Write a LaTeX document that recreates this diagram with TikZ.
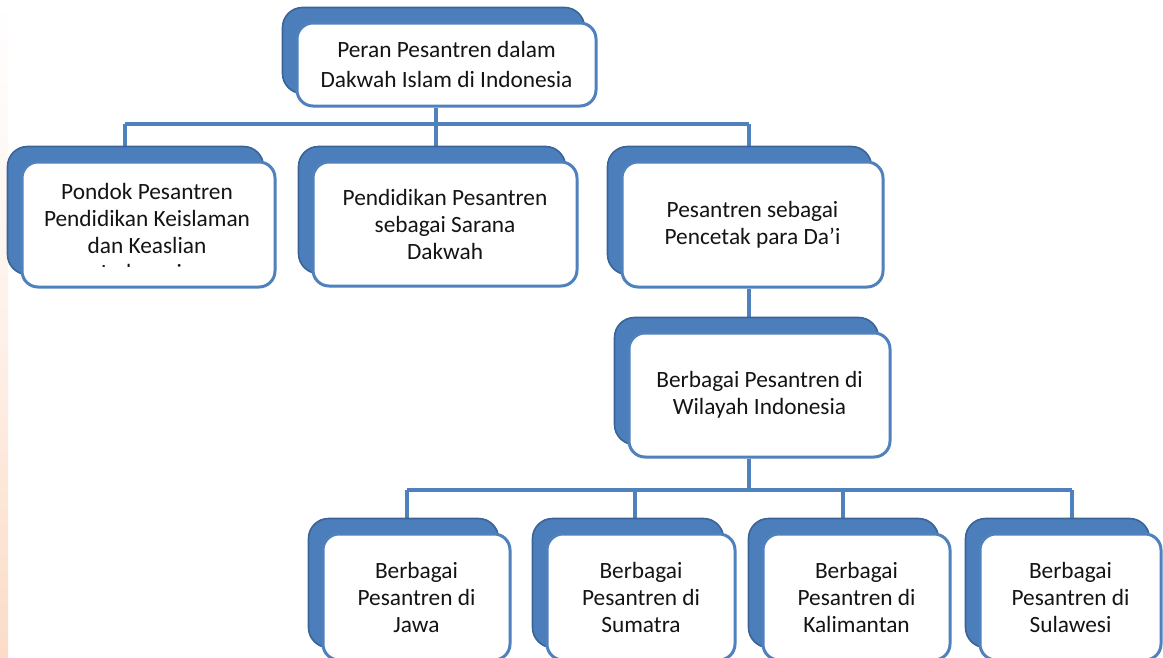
\documentclass[tikz,border=0pt]{standalone}
\usepackage{fontspec}
\setmainfont{Carlito}
\usetikzlibrary{backgrounds,calc}
\definecolor{bluebd}{RGB}{79,129,189}
\definecolor{shfill}{RGB}{76,126,188}
\definecolor{shedge}{RGB}{58,100,152}
\definecolor{txtc}{RGB}{20,20,20}
\definecolor{peach}{RGB}{251,220,200}
\newcommand{\pxl}{0.75pt}
\tikzset{
  frontbox/.style={draw=bluebd, line width=2.25pt, fill=white, rounded corners=12pt,
    align=center, inner sep=0pt, text=txtc, font=\fontsize{17.5pt}{20.25pt}\selectfont},
  toptext/.style={font=\fontsize{17.5pt}{22.5pt}\selectfont},
  boxtext/.style={align=center, inner sep=0pt, text=txtc, font=\fontsize{17.5pt}{20.25pt}\selectfont},
  conn/.style={draw=bluebd, line width=3pt},
  backbox/.style={fill=shfill, draw=shedge, line width=1.2pt, rounded corners=15pt},
}
\newcommand{\backof}[1]{\path[backbox] ($(#1.south west)+(-13,-14)$) rectangle ($(#1.north east)+(-13,-14)$);}
\begin{document}
\begin{tikzpicture}[x=0.75pt, y=-0.75pt]
\useasboundingbox (0,0) rectangle (1163,657);

% front boxes
\node[frontbox, toptext, minimum width=299*\pxl, minimum height=83*\pxl] (top) at (446.5,64.5)
  {Peran Pesantren dalam\\Dakwah Islam di Indonesia};
\node[frontbox, minimum width=253*\pxl, minimum height=125*\pxl] (b1) at (148.5,224.5) {};
\node[frontbox, minimum width=264*\pxl, minimum height=124*\pxl] (b2) at (445,224)
  {Pendidikan Pesantren\\sebagai Sarana\\Dakwah};
\node[frontbox, minimum width=261*\pxl, minimum height=125*\pxl] (b3) at (752.5,224.5)
  {Pesantren sebagai\\Pencetak para Da’i};
\node[frontbox, minimum width=261*\pxl, minimum height=124*\pxl] (b4) at (759.5,395)
  {Berbagai Pesantren di\\Wilayah Indonesia};
\node[frontbox, minimum width=187*\pxl, minimum height=126*\pxl] (jw) at (416.5,597)
  {Berbagai\\Pesantren di\\Jawa};
\node[frontbox, minimum width=188*\pxl, minimum height=126*\pxl] (sm) at (641,597)
  {Berbagai\\Pesantren di\\Sumatra};
\node[frontbox, minimum width=187*\pxl, minimum height=126*\pxl] (kl) at (856.5,597)
  {Berbagai\\Pesantren di\\Kalimantan};
\node[frontbox, minimum width=181*\pxl, minimum height=126*\pxl] (sl) at (1070.5,597)
  {Berbagai\\Pesantren di\\Sulawesi};

% clipped text of the first box
\begin{scope}
  \clip (0,150) rectangle (300,266);
  \node[boxtext] (t1) at (147,232)
    {Pondok Pesantren\\Pendidikan Keislaman\\dan Keaslian\\Indonesia};
\end{scope}

\coordinate (h1L) at (125,124);
\coordinate (h1M) at (436,124);
\coordinate (h1R) at (749,124);
\coordinate (h2L) at (407,490);
\coordinate (h2a) at (635,490);
\coordinate (h2b) at (843,490);
\coordinate (h2R) at (1072,490);

\begin{scope}[on background layer]
  \fill[white] (0,0) rectangle (1163,657);
  \shade[top color=white, bottom color=peach, middle color=white!60!peach] (0,0) rectangle (8,657);
  \draw[conn] (h1M |- top.south) -- (h1M);
  \draw[conn] (h1L) -- (h1R);
  \draw[conn] (h1L) -- (h1L |- b1.north);
  \draw[conn] (h1M) -- (h1M |- b2.north);
  \draw[conn] (h1R) -- (h1R |- b3.north);
  \draw[conn] (h1R |- b3.south) -- (h1R |- b4.north);
  \draw[conn] (h1R |- b4.south) -- (h1R |- h2L);
  \draw[conn] (h2L) -- (h2R);
  \draw[conn] (h2L) -- (h2L |- jw.north);
  \draw[conn] (h2a) -- (h2a |- sm.north);
  \draw[conn] (h2b) -- (h2b |- kl.north);
  \draw[conn] (h2R) -- (h2R |- sl.north);
  \backof{top}
  \backof{b1}
  \backof{b2}
  \backof{b3}
  \backof{b4}
  \backof{jw}
  \backof{sm}
  \backof{kl}
  \backof{sl}
\end{scope}
\end{tikzpicture}
\end{document}
